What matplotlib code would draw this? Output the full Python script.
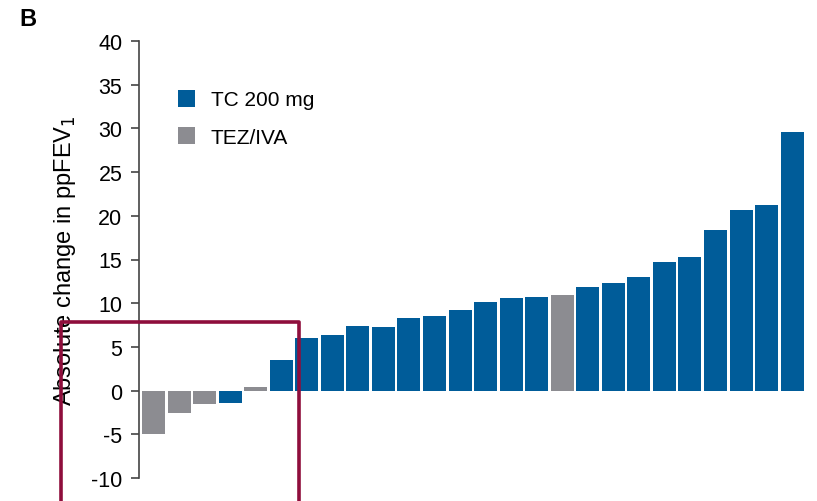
import matplotlib
matplotlib.use("Agg")
import matplotlib.pyplot as plt
from matplotlib.patches import Patch, Rectangle

plt.rcParams['font.family'] = ['Liberation Sans', 'DejaVu Sans']

values = [-5.0, -2.55, -1.5, -1.45, 0.4, 3.5, 6.0, 6.4, 7.35, 7.25, 8.35, 8.55,
          9.25, 10.15, 10.55, 10.75, 10.9, 11.9, 12.3, 13.0, 14.75, 15.25,
          18.35, 20.7, 21.25, 29.6]
groups = ['TEZ/IVA', 'TEZ/IVA', 'TEZ/IVA', 'TC 200 mg', 'TEZ/IVA', 'TC 200 mg',
          'TC 200 mg', 'TC 200 mg', 'TC 200 mg', 'TC 200 mg', 'TC 200 mg', 'TC 200 mg',
          'TC 200 mg', 'TC 200 mg', 'TC 200 mg', 'TC 200 mg', 'TEZ/IVA', 'TC 200 mg',
          'TC 200 mg', 'TC 200 mg', 'TC 200 mg', 'TC 200 mg', 'TC 200 mg', 'TC 200 mg',
          'TC 200 mg', 'TC 200 mg']
yticks = [-10, -5, 0, 5, 10, 15, 20, 25, 30, 35, 40]
legend_labels = ['TC 200 mg', 'TEZ/IVA']
colors = {'TC 200 mg': '#005C99', 'TEZ/IVA': '#8C8C91'}

W, H = 817, 502
fig = plt.figure(figsize=(W / 100, H / 100), dpi=100)
ax = fig.add_axes([139 / W, 23 / H, (810 - 139) / W, (479 - 42) / H])

x = list(range(len(values)))
ax.bar(x, values, width=0.9, color=[colors[g] for g in groups])
ax.set_xlim(-0.57, 25.7)
ax.set_ylim(-10, 40)
ax.set_yticks(yticks)
ax.set_yticklabels([str(t) for t in yticks], fontsize=15.5)
ax.tick_params(axis='y', direction='out', length=6, width=1.2, color='#444444', pad=6)
ax.set_xticks([])
for s in ['top', 'right', 'bottom']:
    ax.spines[s].set_visible(False)
ax.spines['left'].set_color('#444444')
ax.spines['left'].set_linewidth(1.2)
ax.set_ylabel('Absolute change in ppFEV$_1$', fontsize=17)
ax.yaxis.set_label_coords(-0.091, 0.5)

handles = [Patch(facecolor=colors[l], edgecolor='none') for l in legend_labels]
ax.legend(handles, legend_labels, loc='upper left', bbox_to_anchor=(0.045, 0.907),
          frameon=False, fontsize=15, handlelength=0.85, handleheight=0.85,
          handletextpad=0.75, labelspacing=0.85, borderaxespad=0.0)

fig.text(19 / W, 1 - 20 / H, 'B', fontsize=17, fontweight='bold', va='center', ha='left')

rect = Rectangle((61 / W, -0.05), (299 - 61) / W, (H - 323) / H + 0.05,
                 transform=fig.transFigure, fill=False, edgecolor='#8E0E3C',
                 linewidth=2.6, joinstyle='round', clip_on=False)
fig.patches.append(rect)

fig.savefig('out.png', dpi=100)
